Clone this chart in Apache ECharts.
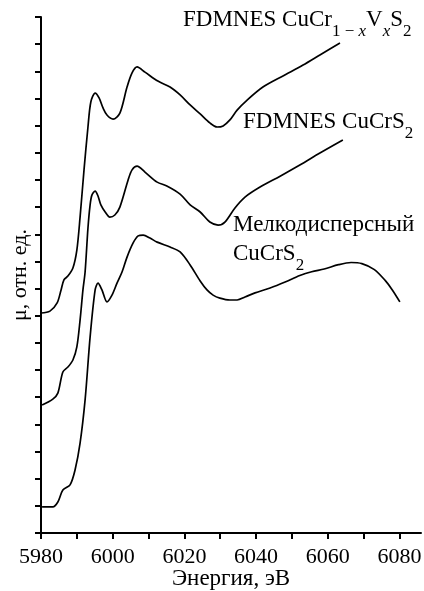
<!DOCTYPE html>
<html>
<head>
<meta charset="utf-8">
<script src="https://cdn.jsdelivr.net/npm/echarts@6/dist/echarts.min.js"></script>
<style>
html, body { margin:0; padding:0; background:#fff; }
#EspectroXanes { width:424px; height:591px; }
</style>
</head>
<body>
<div id="EspectroXanes"></div>
<script>
// FDMNES CuCr(1-x)V(x)S2
var energiaV = [5980.0,5982.5,5984.5,5985.6,5986.4,5987.5,5988.9,5990.0,5990.9,5992.0,5993.1,5993.9,5995.1,5996.2,5997.3,5998.4,6000.1,6002.0,6004.0,6005.4,6006.8,6009.0,6012.6,6016.0,6018.8,6021.6,6024.4,6027.1,6029.1,6030.8,6032.7,6034.7,6037.5,6041.9,6047.5,6053.1,6057.8,6063.4];
var muV = [8.10,8.17,8.47,8.95,9.32,9.46,9.76,10.42,11.63,13.37,14.95,15.87,16.20,16.02,15.65,15.39,15.24,15.46,16.42,16.94,17.16,16.97,16.64,16.42,16.13,15.76,15.43,15.10,14.95,14.99,15.21,15.57,15.94,16.42,16.83,17.23,17.60,18.04];

// FDMNES CuCrS2
var energiaCalc = [5980.3,5983.3,5984.7,5986.1,5987.5,5988.9,5990.0,5990.9,5991.7,5992.3,5993.1,5993.7,5994.2,5995.1,5995.9,5996.7,5997.9,5999.2,6000.6,6002.0,6004.3,6005.4,6006.8,6009.0,6012.4,6015.1,6018.8,6021.6,6024.4,6027.1,6029.4,6031.3,6034.1,6036.9,6041.1,6046.7,6052.2,6057.8,6064.2];
var muCalc = [4.71,4.93,5.15,5.93,6.11,6.37,6.85,7.84,8.95,9.61,11.23,12.08,12.44,12.59,12.41,12.08,11.82,11.63,11.71,12.00,13.00,13.37,13.51,13.29,12.92,12.78,12.48,12.08,11.82,11.45,11.34,11.45,11.97,12.37,12.74,13.14,13.55,13.99,14.47];

// Мелкодисперсный CuCrS2 (эксперимент)
var energiaExp = [5980.3,5983.3,5984.7,5986.1,5988.1,5989.5,5990.9,5992.3,5993.7,5995.1,5995.9,5997.0,5998.4,5999.8,6001.2,6002.6,6004.0,6005.7,6007.1,6008.5,6010.4,6012.4,6016.0,6018.8,6021.6,6024.4,6026.3,6028.0,6029.9,6032.7,6034.7,6036.9,6039.7,6043.9,6048.1,6052.2,6055.5,6059.0,6063.0,6066.5,6069.5,6073.0,6076.0,6078.0,6080.1];
var muExp = [0.96,0.96,1.14,1.58,1.77,2.32,3.31,4.90,7.22,8.95,9.20,8.95,8.51,8.76,9.20,9.61,10.16,10.68,10.94,10.97,10.86,10.71,10.53,10.35,9.87,9.28,8.95,8.76,8.65,8.58,8.58,8.69,8.84,9.02,9.24,9.48,9.62,9.72,9.88,9.96,9.92,9.70,9.30,8.95,8.51];

var ticksX = [5980,5990,6000,6010,6020,6030,6040,6050,6060,6070,6080];
var etiquetasX = [5980,6000,6020,6040,6060,6080];

function unir(xs, ys) {
	var out = [];
	for (var i = 0; i < xs.length; i++) {
		out.push([xs[i], ys[i]]);
	}
	return out;
}

var fuente = '"Liberation Serif", "DejaVu Serif", serif';
var richEtiqueta = {
	n: { fontSize: 23, fontFamily: fuente, color: '#000', lineHeight: 26, verticalAlign: 'middle' },
	s: { fontSize: 17, fontFamily: fuente, color: '#000', lineHeight: 17, padding: [24, 0, 0, 0], verticalAlign: 'middle' },
	si: { fontSize: 17, fontFamily: fuente, fontStyle: 'italic', color: '#000', lineHeight: 17, padding: [24, 0, 0, 0], verticalAlign: 'middle' }
};

var dom = document.getElementById("EspectroXanes");
var myChart = echarts.init(dom);
var option = null;
option = {
	animation: false,
	backgroundColor: '#fff',
	grid: { left: 41, top: 17, right: 3, bottom: 58, containLabel: false, outerBoundsMode: 'none' },
	xAxis: {
		type: 'value',
		min: 5980,
		max: 6086,
		interval: 10,
		name: 'Энергия, эВ',
		nameLocation: 'middle',
		nameGap: 34,
		nameMoveOverlap: false,
		nameTextStyle: { fontSize: 23, fontFamily: fuente, color: '#000' },
		axisLine: { lineStyle: { color: '#000', width: 2 } },
		axisTick: { show: true, length: 6, lineStyle: { color: '#000', width: 2 }, customValues: ticksX },
		axisLabel: {
			fontSize: 22, fontFamily: fuente, color: '#000', margin: 13, customValues: etiquetasX,
			formatter: function (v) { return String(v); }
		},
		splitLine: { show: false }
	},
	yAxis: {
		type: 'value',
		min: 0,
		max: 19,
		interval: 1,
		name: 'μ, отн. ед.',
		nameLocation: 'middle',
		nameGap: 10,
		nameMoveOverlap: false,
		nameTextStyle: { fontSize: 22, fontFamily: fuente, color: '#000' },
		axisLine: { show: true, lineStyle: { color: '#000', width: 2 } },
		axisTick: { show: true, length: 6, lineStyle: { color: '#000', width: 2 } },
		axisLabel: { show: false },
		splitLine: { show: false }
	},
	series: [
		{
			name: 'FDMNES CuCr1-xVxS2',
			type: 'line',
			data: unir(energiaV, muV),
			smooth: 0.3,
			symbol: 'none',
			lineStyle: { color: '#000', width: 1.7 }
		},
		{
			name: 'FDMNES CuCrS2',
			type: 'line',
			data: unir(energiaCalc, muCalc),
			smooth: 0.3,
			symbol: 'none',
			lineStyle: { color: '#000', width: 1.7 }
		},
		{
			name: 'Мелкодисперсный CuCrS2',
			type: 'line',
			data: unir(energiaExp, muExp),
			smooth: 0.3,
			symbol: 'none',
			lineStyle: { color: '#000', width: 1.7 }
		}
	],
	graphic: [
		{
			type: 'text', x: 183, y: 20,
			style: {
				text: '{n|FDMNES CuCr}{s|1 − }{si|x}{n|V}{si|x}{n|S}{s|2}',
				rich: richEtiqueta, verticalAlign: 'middle', align: 'left'
			}
		},
		{
			type: 'text', x: 243, y: 122,
			style: {
				text: '{n|FDMNES CuCrS}{s|2}',
				rich: richEtiqueta, verticalAlign: 'middle', align: 'left'
			}
		},
		{
			type: 'text', x: 233, y: 225,
			style: {
				text: '{n|Мелкодисперсный}',
				rich: richEtiqueta, verticalAlign: 'middle', align: 'left'
			}
		},
		{
			type: 'text', x: 233, y: 254,
			style: {
				text: '{n|CuCrS}{s|2}',
				rich: richEtiqueta, verticalAlign: 'middle', align: 'left'
			}
		}
	]
};
if (option && typeof option === "object") {
	myChart.setOption(option, true);
}
</script>
</body>
</html>
